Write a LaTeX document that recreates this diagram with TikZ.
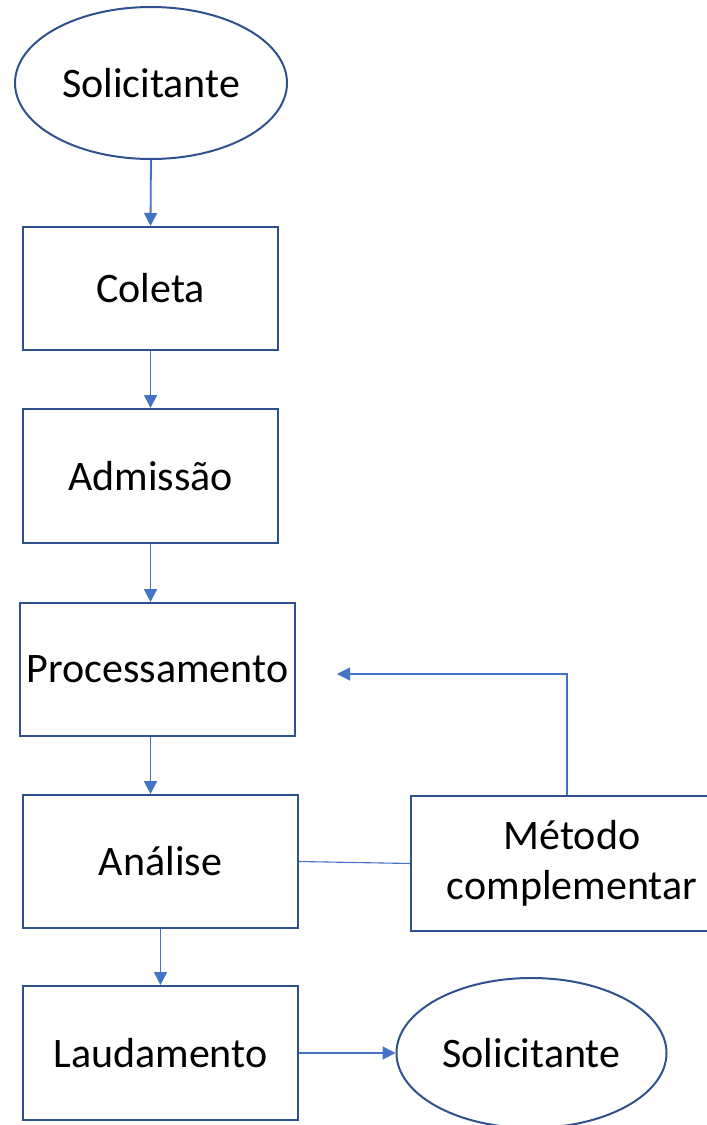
\documentclass[tikz,border=0pt]{standalone}
\usepackage{fontspec}
\setmainfont{Carlito}
\usepackage{xcolor}
\usepackage{tikz}
\usetikzlibrary{arrows.meta,shapes.geometric}
\definecolor{boxline}{RGB}{47,82,143}
\definecolor{arrline}{RGB}{68,114,196}

\begin{document}
\begin{tikzpicture}[x=1pt, y=-1pt,
  etapa/.style={draw=boxline, line width=2pt, rectangle, inner sep=0pt, font=\fontsize{42}{50}\selectfont, text=black},
  polo/.style={draw=boxline, line width=2pt, ellipse, inner sep=0pt, font=\fontsize{42}{50}\selectfont, text=black},
  seta/.style={draw=arrline, line width=1.8pt, -{Triangle[length=13pt, width=13pt]}},
  liga/.style={draw=arrline, line width=1.1pt}]
  \clip (0,0) rectangle (707,1125);
  \node[polo, minimum width=272, minimum height=152] (sol1) at (151,83) {Solicitante};
  \node[etapa, minimum width=255, minimum height=123] (coleta) at (150.5,288.5) {Coleta};
  \node[etapa, minimum width=255, minimum height=134] (admissao) at (150.5,476) {Admissão};
  \node[etapa, minimum width=275, minimum height=133] (proc) at (157.5,669.5) {Processamento};
  \node[etapa, minimum width=275, minimum height=133] (analise) at (160.5,861.5) {Análise};
  \node[etapa, minimum width=275, minimum height=134] (laudo) at (160.5,1053) {Laudamento};
  \node[etapa, minimum width=322, minimum height=135, align=center] (metodo) at (572,863.5) {Método\\complementar};
  \node[polo, minimum width=270, minimum height=150] (sol2) at (531.5,1053) {Solicitante};
  \coordinate (volta) at (337,674);
  \draw[seta] (sol1.south) -- (coleta.north);
  \draw[seta] (coleta.south) -- (admissao.north);
  \draw[seta] (admissao.south) -- (admissao.south |- proc.north);
  \draw[seta] (proc.south -| admissao.south) -- (analise.north -| admissao.south);
  \draw[seta] (analise.south) -- (laudo.north);
  \draw[seta] (laudo.east) -- (sol2.west);
  \draw[liga] (analise.east) -- (metodo.west);
  \draw[liga, -{Triangle[length=13pt, width=13pt]}] ([xshift=-5pt]metodo.north) |- (volta);
\end{tikzpicture}
\end{document}
